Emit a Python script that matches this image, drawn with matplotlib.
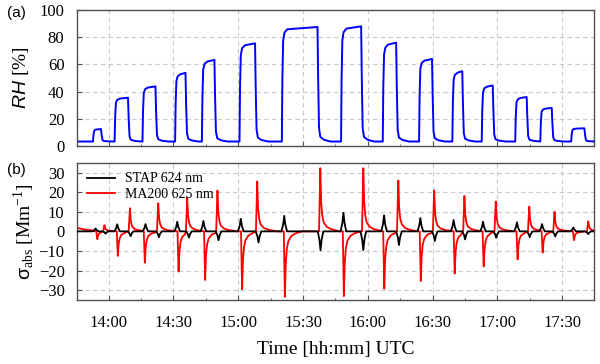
import numpy as np
import matplotlib.pyplot as plt
from matplotlib.ticker import MultipleLocator, FuncFormatter

plt.rcParams.update({
    "font.family": "Liberation Serif",
    "mathtext.fontset": "custom",
    "mathtext.rm": "Liberation Serif",
    "mathtext.it": "Liberation Sans:italic",
    "mathtext.sf": "Liberation Sans",
})

# ---------------------------------------------------------------------------
# Data; times are minutes after midnight (UTC)

# RH steps: start/end of each humidity pulse and its plateau level [%]
rh_base = 3.3
rh_rise = [832.8, 842.8, 855.7, 870.8, 883.2, 900.6, 920.2, 947.6,
           966.9, 983.7, 999.1, 1012.7, 1028.2, 1039.8, 1054.1]
rh_fall = [836.5, 849.0, 861.7, 875.6, 889.0, 907.8, 936.7, 956.9,
           973.1, 989.7, 1003.7, 1017.8, 1033.5, 1045.1, 1060.2]
rh_level = [12.5, 35.5, 43.8, 53.8, 63.3, 75.5, 87.5, 88.0,
            76.0, 64.0, 55.0, 44.5, 36.0, 28.0, 13.0]

# STAP 624 nm spikes (positive at RH rise, negative at RH fall)
stap_pos_t = [834.0, 844.0, 857.1, 871.8, 883.9, 901.2, 921.3, 948.7,
              967.5, 984.3, 999.7, 1013.3, 1029.0, 1040.6, 1055.1]
stap_pos_v = [1.5, 3.6, 3.7, 4.9, 5.3, 6.4, 7.9, 9.5,
              8.2, 6.8, 5.8, 4.9, 4.6, 3.7, 2.0]
stap_neg_t = [838.6, 850.2, 863.3, 877.2, 890.9, 909.4, 938.1, 957.9,
              974.4, 991.0, 1005.0, 1019.4, 1034.9, 1046.7, 1062.0]
stap_neg_v = [-1.2, -2.5, -3.0, -3.2, -4.5, -5.7, -9.6, -9.6,
              -7.0, -4.9, -4.1, -3.3, -3.0, -2.6, -1.4]

# MA200 625 nm spikes (negative at RH rise, positive at RH fall)
ma_neg_t = [834.8, 844.3, 856.8, 872.4, 884.7, 901.8, 921.6, 948.9,
            967.6, 984.5, 1000.2, 1013.6, 1029.3, 1040.9, 1055.4]
ma_neg_v = [-4.0, -12.5, -16.0, -20.5, -24.8, -29.5, -33.4, -33.0,
            -29.2, -25.3, -21.5, -17.9, -14.3, -10.8, -4.5]
ma_pos_t = [838.1, 849.9, 863.0, 876.4, 890.4, 908.8, 938.0, 957.9,
            974.1, 990.7, 1004.7, 1019.2, 1034.7, 1046.4, 1062.0]
ma_pos_v = [3.2, 11.8, 14.3, 17.2, 20.8, 25.4, 32.2, 32.2,
            25.9, 20.8, 18.0, 15.2, 12.6, 10.0, 5.1]
ma_start_t = [825.3, 828.5, 832.0]
ma_start_v = [1.8, 1.0, 0.6]

# spike / step shapes (minutes from event, fraction of peak)
rh_up_dt, rh_up_f = [0.0, 0.25, 0.6, 1.2, 2.5], [0.0, 0.55, 0.88, 0.95, 0.98]
rh_dn_dt, rh_dn_f = [0.0, 0.3, 0.7, 1.3, 3.0, 6.0], [1.0, 0.55, 0.12, 0.04, 0.015, 0.0]
stap_dt, stap_f = [-1.3, -0.5, 0.0, 0.5, 1.3], [0.0, 0.45, 1.0, 0.45, 0.0]
ma_pos_dt, ma_pos_f = [-0.6, 0.0, 0.4, 0.9, 1.6, 3.0, 5.0, 9.0], [0.0, 1.0, 0.47, 0.25, 0.14, 0.07, 0.035, 0.0]
ma_neg_dt, ma_neg_f = [-0.5, 0.0, 0.4, 0.9, 1.6, 3.0, 5.0, 8.0], [0.0, 1.0, 0.5, 0.27, 0.15, 0.07, 0.03, 0.0]

t_min, t_max = 825.4, 1064.8


def spikes_to_line(events, t0, y0, t_end):
    """events: list of (time, amplitude, dt_profile, frac_profile), sorted."""
    tt, yy = list(t0), list(y0)
    for i, (tc, amp, dts, fr) in enumerate(events):
        t_next = events[i + 1][0] + events[i + 1][2][0] if i + 1 < len(events) else np.inf
        for dt, f in zip(dts, fr):
            if tc + dt < t_next and tc + dt > tt[-1]:
                tt.append(tc + dt)
                yy.append(amp * f)
    tt.append(t_end)
    yy.append(0.0)
    return tt, yy


# RH trace
rh_t, rh_y = [t_min], [rh_base]
for i, (tr, tf, lv) in enumerate(zip(rh_rise, rh_fall, rh_level)):
    t_next = rh_rise[i + 1] if i + 1 < len(rh_rise) else np.inf
    for dt, f in zip(rh_up_dt, rh_up_f):
        rh_t.append(tr + dt)
        rh_y.append(rh_base + f * (lv - rh_base))
    for dt, f in zip(rh_dn_dt, rh_dn_f):
        if tf + dt < t_next:
            rh_t.append(tf + dt)
            rh_y.append(rh_base + f * (lv - rh_base))
rh_t.append(t_max)
rh_y.append(rh_base)

stap_ev = sorted([(t, v, stap_dt, stap_f) for t, v in zip(stap_pos_t, stap_pos_v)]
                 + [(t, v, stap_dt, stap_f) for t, v in zip(stap_neg_t, stap_neg_v)],
                 key=lambda e: e[0])
ma_ev = sorted([(t, v, ma_neg_dt, ma_neg_f) for t, v in zip(ma_neg_t, ma_neg_v)]
               + [(t, v, ma_pos_dt, ma_pos_f) for t, v in zip(ma_pos_t, ma_pos_v)],
               key=lambda e: e[0])
stap_t, stap_y = spikes_to_line(stap_ev, [t_min], [0.0], t_max)
ma_t, ma_y = spikes_to_line(ma_ev, ma_start_t, ma_start_v, t_max)

# ---------------------------------------------------------------------------
fig = plt.figure(figsize=(6, 3.64), dpi=100)
ax1 = fig.add_axes([77 / 600, 1 - 146 / 364, 517.3 / 600, 136 / 364])
ax2 = fig.add_axes([77 / 600, 1 - 300 / 364, 517.3 / 600, 137.3 / 364])

ax1.plot(rh_t, rh_y, color="#0000ff", lw=1.4)
ax2.plot(ma_t, ma_y, color="#ff0000", lw=1.3, label="MA200 625 nm", zorder=2)
ax2.plot(stap_t, stap_y, color="black", lw=1.3, label="STAP 624 nm", zorder=3)

hhmm = FuncFormatter(lambda v, pos: f"{int(v // 60):02d}:{int(v % 60):02d}")
for ax in (ax1, ax2):
    ax.set_xlim(t_min, t_max)
    ax.xaxis.set_major_locator(MultipleLocator(30))
    ax.xaxis.set_minor_locator(MultipleLocator(15))
    ax.xaxis.set_major_formatter(hhmm)
    ax.grid(True, which="major", color="#c8c8c8", ls=(0, (4, 3)), lw=0.8)
    ax.set_axisbelow(True)
    for sp in ax.spines.values():
        sp.set_color("#505050")
        sp.set_linewidth(1.0)
    ax.tick_params(which="both", direction="in", top=False, right=False,
                   color="#505050", labelsize=12)
    ax.tick_params(which="major", length=3.6)
    ax.tick_params(which="minor", length=1.6)
    ax.tick_params(axis="x", pad=11)
    ax.tick_params(axis="y", pad=9)

ax1.set_ylim(0, 100)
ax1.yaxis.set_major_locator(MultipleLocator(20))
ax1.tick_params(labelbottom=False)
ax1.set_ylabel("$RH$ [%]", fontsize=14, labelpad=6)

ax2.set_ylim(-35, 35)
ax2.yaxis.set_major_locator(MultipleLocator(10))
ax2.set_ylabel(r"$\mathsf{σ}_{\mathrm{abs}}$ [Mm$^{-1}$]", fontsize=14, labelpad=2)
ax2.set_xlabel("Time [hh:mm] UTC", fontsize=14, labelpad=7)

handles, labels = ax2.get_legend_handles_labels()
ax2.legend(handles[::-1], labels[::-1], loc="upper left", frameon=False, fontsize=10,
           handlelength=2.0, handletextpad=0.75, labelspacing=0.2,
           borderaxespad=0.3, borderpad=0.4)

fig.text(0.012, 0.965, "(a)", family="Liberation Sans", fontsize=11, va="center")
fig.text(0.012, 0.533, "(b)", family="Liberation Sans", fontsize=11, va="center")

fig.savefig("out.png", dpi=100)
